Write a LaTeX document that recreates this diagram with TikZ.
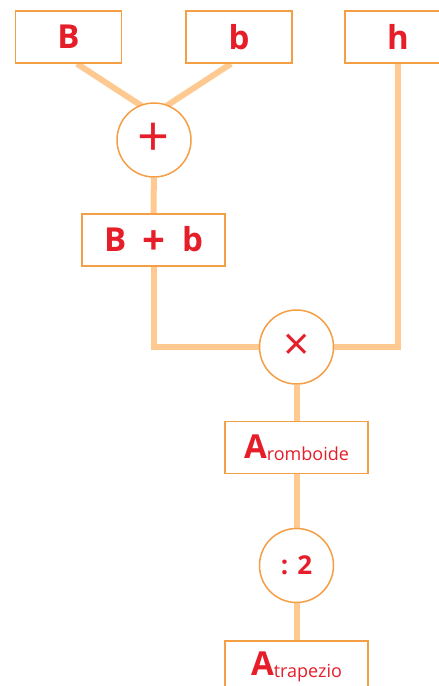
\documentclass[tikz,border=0pt]{standalone}
\usepackage{fontspec}
\setmainfont{Open Sans}
\usepackage{xcolor}
\usetikzlibrary{backgrounds}

\definecolor{textred}{RGB}{230,30,42}
\definecolor{boxorange}{RGB}{244,158,70}
\definecolor{wireorange}{RGB}{254,202,146}

\begin{document}
\begin{tikzpicture}[
    x=1pt, y=-1pt,
    val/.style={
        draw=boxorange,
        line width=1.5pt,
        fill=white,
        text=textred,
        font=\fontsize{33}{33}\selectfont\bfseries,
        minimum width=106pt,
        minimum height=52pt,
        inner sep=0pt
    },
    wideval/.style={
        val,
        minimum width=143pt
    },
    op/.style={
        circle,
        draw=boxorange,
        line width=1.5pt,
        fill=white,
        text=textred,
        minimum size=74pt,
        inner sep=0pt
    },
    wire/.style={
        draw=wireorange,
        line width=6pt
    }
]
\useasboundingbox (0,0) rectangle (439,686);

% Inputs
\node[val] (B) at (68.5,37) {B};
\node[val] (b) at (239,37) {b};
\node[val] (h) at (398,37) {h};

% Sum
\node[op, font=\fontsize{56}{56}\selectfont] (plus) at (154,140) {+};
\coordinate (join) at (154,114);
\node[wideval] (sum) at (153.5,240)
    {B\enspace\raisebox{-3pt}{\fontsize{40}{40}\selectfont+}\enspace b};

% Product
\node[op, font=\fontsize{46}{46}\selectfont] (times) at (296.5,347) {×};
\node[wideval] (arom) at (296.5,447.5)
    {A\raisebox{-2pt}{\fontsize{18}{18}\selectfont\mdseries romboide}};

% Half
\node[op, font=\fontsize{26}{26}\selectfont\bfseries] (half) at (296.5,565.5) {: 2};
\node[wideval] (atrap) at (296.5,667)
    {A\raisebox{-2pt}{\fontsize{18}{18}\selectfont\mdseries trapezio}};

% Wires
\begin{scope}[on background layer]
    \draw[wire] ([xshift=8.5pt]B.south) -- (join);
    \draw[wire] ([xshift=-8pt]b.south) -- (join);
    \draw[wire] (plus) -- (sum);
    \draw[wire] (sum.south) |- (times.west);
    \draw[wire] (h.south) |- (times.east);
    \draw[wire] (times) -- (arom);
    \draw[wire] (arom) -- (half);
    \draw[wire] (half) -- (atrap);
\end{scope}

\end{tikzpicture}
\end{document}
